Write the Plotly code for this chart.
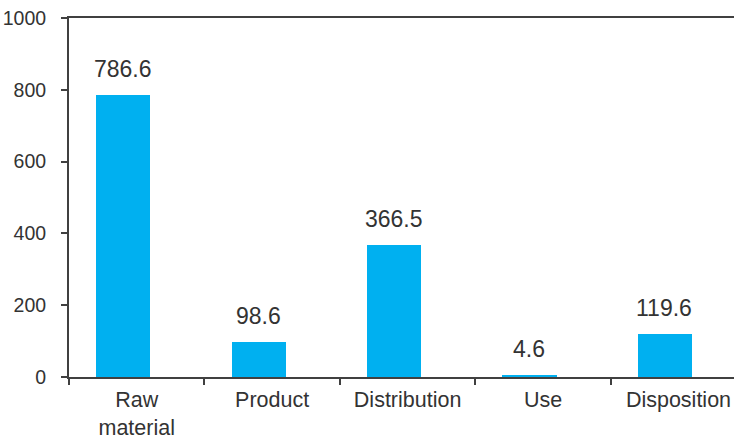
import plotly.graph_objects as go

categories = ["Raw<br>material", "Product", "Distribution", "Use", "Disposition"]
values = [786.6, 98.6, 366.5, 4.6, 119.6]
labels = ["786.6", "98.6", "366.5", "4.6", "119.6"]
y_ticks = [0, 200, 400, 600, 800, 1000]

FONT = "Liberation Sans, Arial, sans-serif"
TXT = "#333333"
AX = "#404040"

fig = go.Figure()
fig.add_trace(go.Bar(
    x=categories, y=values,
    width=0.4, offset=-0.3,
    marker=dict(color="#00B0F0", line=dict(width=0)),
    hoverinfo="skip",
))

for c, v, t in zip(categories, values, labels):
    fig.add_annotation(x=c, y=v, text=t, showarrow=False,
                       yanchor="bottom", yshift=11, xshift=-14,
                       font=dict(family=FONT, size=23, color=TXT))

fig.update_layout(
    width=734, height=438,
    margin=dict(l=69, r=0, t=18, b=61),
    paper_bgcolor="white", plot_bgcolor="white",
    showlegend=False,
    bargap=0,
    font=dict(family=FONT, color=TXT),
)
fig.update_xaxes(
    type="category", range=[-0.5, 4.41], automargin=False,
    tickson="boundaries", ticks="outside", ticklen=6, tickwidth=1.5, tickcolor=AX,
    showline=True, linecolor=AX, linewidth=2, mirror=True,
    showgrid=False, ticklabelstandoff=2,
    tickfont=dict(family=FONT, size=21.5, color=TXT),
)
fig.update_yaxes(
    range=[0, 1000], tickvals=y_ticks, ticktext=[str(v) for v in y_ticks],
    ticks="outside", ticklen=6, tickwidth=1.5, tickcolor=AX, automargin=False,
    showline=True, linecolor=AX, linewidth=2,
    showgrid=False, zeroline=False, ticklabelstandoff=11,
    tickfont=dict(family=FONT, size=19.5, color=TXT),
)

fig.write_html("out.html", config={"displayModeBar": False},
               post_script="document.body.style.margin='0';document.body.style.overflow='hidden';")
